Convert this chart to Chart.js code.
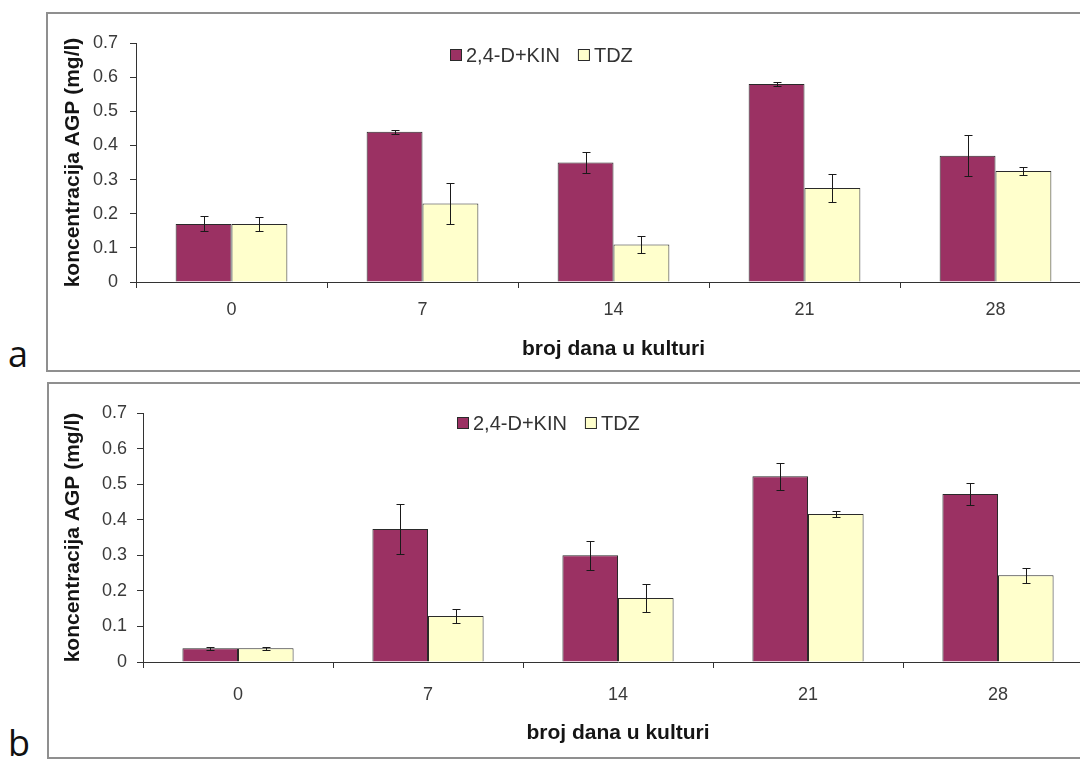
<!DOCTYPE html>
<html>
<head>
<meta charset="utf-8">
<script src="https://cdn.jsdelivr.net/npm/chart.js@4.4.1/dist/chart.umd.min.js"></script>
<style>
  body { margin: 0; background: #fff; width: 1080px; height: 759px; overflow: hidden; position: relative; }
  .panel { position: absolute; border: 2px solid #8f8f8f; background: #fff; }
  #panelA { left: 46px; top: 12px; width: 1080px; height: 356px; }
  #panelB { left: 47px; top: 382px; width: 1080px; height: 373px; }
  .tag { position: absolute; left: 8px; font: 36px "Open Sans", sans-serif; line-height: 36px; color: #111; }
</style>
</head>
<body>
<div class="panel" id="panelA"><canvas id="chartA" width="1060" height="356"></canvas></div>
<div class="panel" id="panelB"><canvas id="chartB" width="1060" height="373"></canvas></div>
<div class="tag" style="top:336px">a</div>
<div class="tag" style="top:725px">b</div>
<script>
// data
const days = ["0", "7", "14", "21", "28"];
const seriesNames = ["2,4-D+KIN", "TDZ"];
const yTicks = [0, 0.1, 0.2, 0.3, 0.4, 0.5, 0.6, 0.7];
const yTickLabels = ["0", "0.1", "0.2", "0.3", "0.4", "0.5", "0.6", "0.7"];

// panel a
const kinA = [0.17, 0.44, 0.35, 0.58, 0.37];
const kinAErr = [0.022, 0.006, 0.03, 0.005, 0.06];
const tdzA = [0.17, 0.23, 0.11, 0.275, 0.325];
const tdzAErr = [0.02, 0.06, 0.024, 0.041, 0.013];

// panel b
const kinB = [0.039, 0.374, 0.30, 0.522, 0.472];
const kinBErr = [0.004, 0.07, 0.04, 0.038, 0.032];
const tdzB = [0.039, 0.129, 0.18, 0.416, 0.244];
const tdzBErr = [0.004, 0.02, 0.04, 0.008, 0.021];

const KIN_COLOR = "#9b3163";
const TDZ_COLOR = "#ffffcc";
const EDGE = "#2a2a2a";
const FONT = '"Liberation Sans", Arial, sans-serif';

// error bars drawn from each bar's own scale position
const errorBars = {
  id: "errorBars",
  afterDatasetsDraw(chart) {
    const ctx = chart.ctx;
    const y = chart.scales.y;
    ctx.save();
    ctx.strokeStyle = "#1a1a1a";
    ctx.lineWidth = 1;
    chart.data.datasets.forEach((ds, i) => {
      const meta = chart.getDatasetMeta(i);
      meta.data.forEach((bar, j) => {
        const v = ds.data[j], e = ds.errors[j];
        const top = Math.round(y.getPixelForValue(v + e)) + 0.5;
        const bot = Math.round(y.getPixelForValue(v - e)) + 0.5;
        const x = Math.round(bar.x) + 0.5;
        ctx.beginPath();
        ctx.moveTo(x, top); ctx.lineTo(x, bot);
        ctx.moveTo(x - 4, top); ctx.lineTo(x + 4, top);
        ctx.moveTo(x - 4, bot); ctx.lineTo(x + 4, bot);
        ctx.stroke();
      });
    });
    ctx.restore();
  }
};

// legend sits inside the plot area, like the Excel original
const innerLegend = {
  id: "innerLegend",
  afterDraw(chart, args, opts) {
    const ctx = chart.ctx;
    const area = chart.chartArea;
    let x = area.left + opts.dx;
    const cy = area.top + opts.dy;
    ctx.save();
    ctx.font = "20px " + FONT;
    ctx.textBaseline = "middle";
    chart.data.datasets.forEach((ds) => {
      ctx.fillStyle = ds.backgroundColor;
      ctx.fillRect(x, cy - 6, 12, 12);
      ctx.strokeStyle = EDGE;
      ctx.lineWidth = 1;
      ctx.strokeRect(x + 0.5, cy - 5.5, 11, 11);
      x += 12 + 4;
      ctx.fillStyle = "#333";
      ctx.fillText(ds.label, x, cy + 1);
      x += ctx.measureText(ds.label).width + 18;
    });
    ctx.restore();
  }
};

function makeChart(id, kin, kinErr, tdz, tdzErr, g) {
  const canvas = document.getElementById(id);
  const W = canvas.width, H = canvas.height;
  return new Chart(canvas.getContext("2d"), {
    type: "bar",
    data: {
      labels: days,
      datasets: [
        { label: seriesNames[0], data: kin, errors: kinErr, backgroundColor: KIN_COLOR, borderColor: EDGE, borderWidth: 1 },
        { label: seriesNames[1], data: tdz, errors: tdzErr, backgroundColor: TDZ_COLOR, borderColor: EDGE, borderWidth: 1 },
      ],
    },
    options: {
      responsive: false,
      devicePixelRatio: 1,
      animation: false,
      categoryPercentage: 0.585,
      barPercentage: 1,
      layout: { padding: { left: 0, top: g.top, right: W - g.right, bottom: 0 } },
      plugins: {
        legend: { display: false },
        tooltip: { enabled: false },
        innerLegend: { dx: 314, dy: g.legendDy },
      },
      scales: {
        x: {
          afterFit: (s) => { s.height = H - g.bottom; },
          grid: { display: true, drawOnChartArea: false, tickLength: 6, color: "#333" },
          border: { display: true, color: "#333", width: 1 },
          ticks: { color: "#3a3a3a", padding: g.xPad, font: { size: 18, family: FONT } },
          title: {
            display: true, text: "broj dana u kulturi", color: "#151515",
            font: { size: 21, weight: "bold", family: FONT }, padding: { top: 0, bottom: g.xTitlePad },
          },
        },
        y: {
          min: 0, max: 0.7,
          afterFit: (s) => { s.width = g.left; },
          afterBuildTicks: (s) => { s.ticks = yTicks.map((v) => ({ value: v })); },
          grid: { display: true, drawOnChartArea: false, tickLength: 6, color: "#333" },
          border: { display: true, color: "#333", width: 1 },
          ticks: {
            color: "#3a3a3a", padding: g.yPad, font: { size: 18, family: FONT },
            callback: (v, i) => yTickLabels[i],
          },
          title: {
            display: true, text: "koncentracija AGP (mg/l)", color: "#151515",
            font: { size: 21, weight: "bold", family: FONT }, padding: { top: g.yTitlePad, bottom: 0 },
          },
        },
      },
    },
    plugins: [errorBars, innerLegend],
  });
}

makeChart("chartA", kinA, kinAErr, tdzA, tdzAErr,
  { left: 88, right: 1043, top: 29, bottom: 268, xPad: 11, xTitlePad: 8, yPad: 12, yTitlePad: 13, legendDy: 12 });
makeChart("chartB", kinB, kinBErr, tdzB, tdzBErr,
  { left: 94, right: 1044, top: 29, bottom: 278, xPad: 16, xTitlePad: 11, yPad: 10, yTitlePad: 12, legendDy: 10 });
</script>
</body>
</html>
